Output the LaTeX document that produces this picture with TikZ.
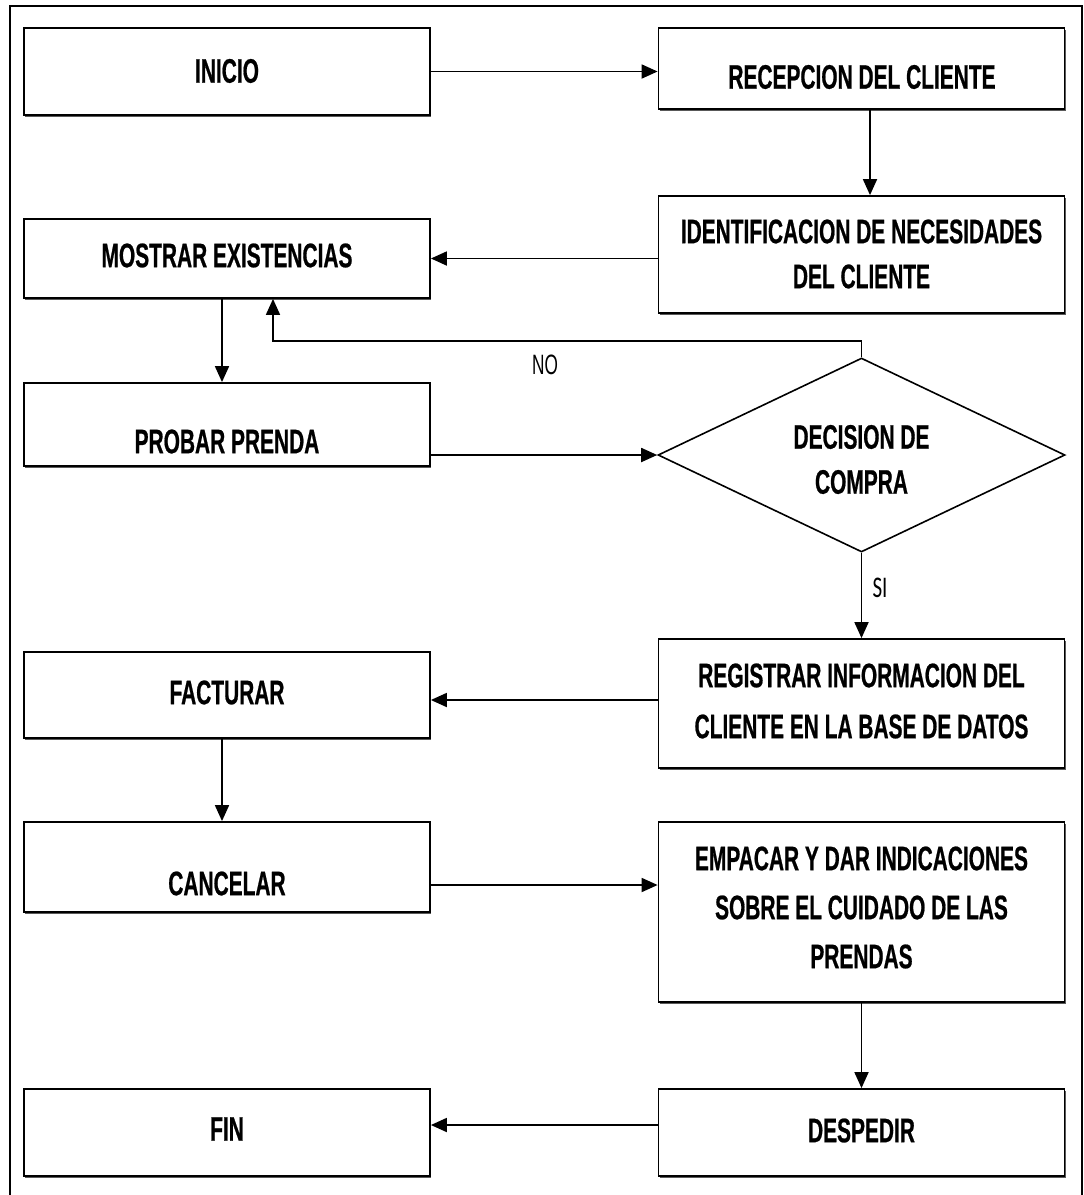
\documentclass[tikz,border=0pt]{standalone}
\usepackage{fontspec}
\setmainfont{Liberation Sans}[FakeStretch=0.615, BoldFeatures={FakeBold=0.6}]
\newfontfamily\sifont{Carlito}[FakeStretch=0.7]
\usetikzlibrary{arrows.meta,shapes.geometric,shadows,calc}
\begin{document}
\begin{tikzpicture}[x=1pt,y=-1pt,
  box/.style={draw, line width=1.8pt, fill=white, inner sep=0pt,
    minimum width=406pt,
    drop shadow={shadow xshift=1pt, shadow yshift=-1.5pt, fill=black!65, opacity=1}},
  decision/.style={draw, diamond, line width=1.6pt, fill=white, inner sep=0pt,
    minimum width=407pt, minimum height=194pt},
  lbl/.style={font=\bfseries\fontsize{34}{45}\selectfont, align=center, inner sep=0pt},
  arr/.style={line width=1.8pt, -{Triangle[length=16pt,width=14pt]}}]

\useasboundingbox (0,0) rectangle (1084,1195);
\fill[white] (0,0) rectangle (1084,1195);

% outer frame (open at the bottom edge of the page)
\draw[line width=2.4pt] (10,1195) -- (10,6) -- (1082,6) -- (1082,1195);

% process boxes
\node[box, minimum height=87pt]  (inicio) at (227,71.5)   {};
\node[box, minimum height=81pt]  (recep)  at (861.5,68.5) {};
\node[box, minimum height=117pt] (ident)  at (861.5,254.5){};
\node[box, minimum height=79pt]  (most)   at (227,258.5)  {};
\node[box, minimum height=83pt]  (probar) at (227,424.5)  {};
\node[decision]                  (dec)    at (861.5,455)  {};
\node[box, minimum height=129pt] (reg)    at (861.5,703.5){};
\node[box, minimum height=86pt]  (fact)   at (227,695)    {};
\node[box, minimum height=90pt]  (canc)   at (227,867)    {};
\node[box, minimum height=180pt] (emp)    at (861.5,912)  {};
\node[box, minimum height=87pt]  (fin)    at (227,1132.5) {};
\node[box, minimum height=87pt]  (desp)   at (861.5,1132.5){};

% box texts
\node[lbl] (t-inicio) at (227,71)      {INICIO};
\node[lbl] (t-recep)  at (862,77)      {RECEPCION DEL CLIENTE};
\node[lbl] (t-ident)  at (861.5,254)   {IDENTIFICACION DE NECESIDADES\\DEL CLIENTE};
\node[lbl] (t-most)   at (227,255.5)   {MOSTRAR EXISTENCIAS};
\node[lbl] (t-probar) at (227,441.5)   {PROBAR PRENDA};
\node[lbl] (t-dec)    at (861.5,459.5) {DECISION DE\\COMPRA};
\node[lbl, font=\bfseries\fontsize{34}{51}\selectfont] (t-reg) at (861.5,701)
  {REGISTRAR INFORMACION DEL\\CLIENTE EN LA BASE DE DATOS};
\node[lbl] (t-fact)   at (227,692.5)   {FACTURAR};
\node[lbl] (t-canc)   at (227,883.5)   {CANCELAR};
\node[lbl, font=\bfseries\fontsize{34}{49}\selectfont] (t-emp) at (861.5,907.5)
  {EMPACAR Y DAR INDICACIONES\\SOBRE EL CUIDADO DE LAS\\PRENDAS};
\node[lbl] (t-fin)    at (227,1129)    {FIN};
\node[lbl] (t-desp)   at (861.5,1130.5){DESPEDIR};

% branch labels
\node[font=\fontsize{28}{30}\selectfont, inner sep=0pt] (t-no) at (545,365) {NO};
\node[font=\sifont\fontsize{30}{32}\selectfont, inner sep=0pt] (t-si) at (880,588) {SI};

% connectors
\draw[arr] (inicio.east) -- (inicio.east -| recep.west);
\draw[arr] ($(recep.south)+(8.5,0)$) -- ($(ident.north)+(8.5,0)$);
\draw[arr] (ident.west |- most.east) -- (most.east);
\draw[arr] ($(most.south)+(-5,0)$) -- ($(probar.north)+(-5,0)$);
\draw[arr] (probar.east |- dec.west) -- (dec.west);
\draw[arr] (dec.north) -- ++(0,-16) -| ($(most.south)+(46,0)$);
\draw[arr] (dec.south) -- (reg.north);
\coordinate (k1) at ($(fact.east)+(0,5)$);
\draw[arr] (k1 -| reg.west) -- (k1);
\draw[arr] ($(fact.south)+(-5,0)$) -- ($(canc.north)+(-5,0)$);
\coordinate (k2) at ($(canc.east)+(0,18)$);
\draw[arr] (k2) -- (k2 -| emp.west);
\draw[arr] (emp.south) -- (desp.north);
\coordinate (k3) at ($(fin.east)+(0,-7.5)$);
\draw[arr] (k3 -| desp.west) -- (k3);
\end{tikzpicture}
\end{document}
